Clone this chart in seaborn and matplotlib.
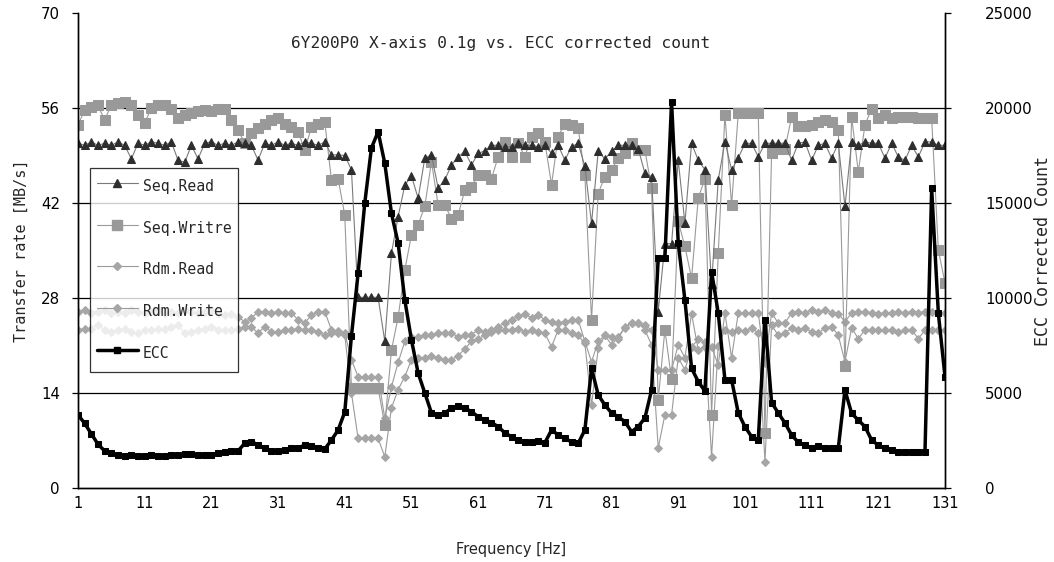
import numpy as np
import pandas as pd
import matplotlib
matplotlib.use("Agg")
import matplotlib.pyplot as plt
from matplotlib.lines import Line2D
import seaborn as sns

freq = list(range(1, 132))

seq_read = [
    50.8, 50.5, 51.0, 50.5, 50.8, 50.5, 51.0, 50.5, 48.5, 50.8,
    50.5, 51.0, 50.8, 50.5, 51.0, 48.3, 48.0, 50.5, 48.5, 50.8,
    51.0, 50.5, 50.8, 50.5, 51.0, 50.8, 50.5, 48.3, 50.8, 50.5,
    51.0, 50.5, 50.8, 50.5, 51.0, 50.8, 50.5, 51.0, 49.1, 49.1,
    49.0, 46.9, 28.1, 28.1, 28.1, 28.1, 21.6, 34.6, 40.0, 44.6,
    46.0, 42.7, 48.6, 49.1, 44.2, 45.4, 47.6, 48.8, 49.6, 47.6,
    49.3, 49.7, 50.5, 50.5, 50.3, 50.3, 50.8, 50.5, 50.5, 50.3,
    50.5, 49.3, 50.5, 48.3, 50.3, 50.8, 47.4, 39.0, 49.6, 48.5,
    49.6, 50.5, 50.5, 50.5, 50.0, 46.4, 45.9, 26.0, 36.0, 36.0,
    48.3, 39.0, 50.8, 48.3, 46.9, 30.0, 45.4, 51.0, 46.9, 48.6,
    50.8, 50.8, 48.8, 50.8, 50.8, 50.8, 50.8, 48.3, 50.8, 51.0,
    48.3, 50.5, 50.8, 48.6, 50.8, 41.5, 51.0, 50.5, 51.0, 50.8,
    50.8, 48.6, 50.8, 48.8, 48.3, 50.5, 48.8, 51.0, 51.0, 50.5, 50.5,
]

seq_write = [
    53.5, 55.7, 56.2, 56.4, 54.2, 56.5, 56.7, 56.9, 56.5, 55.0,
    53.8, 56.0, 56.4, 56.5, 55.8, 54.5, 55.0, 55.3, 55.5, 55.7,
    55.5, 55.9, 55.9, 54.2, 52.8, 50.8, 52.3, 53.0, 53.7, 54.2,
    54.5, 53.7, 53.2, 52.5, 49.8, 53.2, 53.7, 54.0, 45.4, 45.6,
    40.2, 14.7, 14.7, 14.7, 14.7, 14.7, 9.3, 20.3, 25.2, 32.1,
    37.3, 38.8, 41.5, 48.1, 41.7, 41.7, 39.7, 40.2, 43.9, 44.4,
    46.1, 46.1, 45.6, 48.8, 51.0, 48.8, 50.8, 48.8, 51.8, 52.3,
    51.0, 44.7, 51.8, 53.7, 53.5, 53.0, 46.1, 24.8, 43.4, 45.9,
    46.9, 48.6, 49.3, 50.8, 49.8, 49.8, 44.2, 13.0, 23.3, 16.0,
    39.3, 35.6, 30.9, 42.7, 45.6, 10.8, 34.6, 55.0, 41.7, 55.2,
    55.2, 55.2, 55.2, 8.1, 49.3, 50.0, 50.0, 54.7, 53.3, 53.3,
    53.5, 54.0, 54.2, 54.0, 52.8, 18.0, 54.7, 46.6, 53.5, 55.9,
    54.5, 55.0, 54.5, 54.7, 54.7, 54.7, 54.5, 54.5, 54.5, 35.1, 30.2,
]

rdm_read = [
    26.0, 26.2, 25.8, 26.0, 26.2, 25.8, 26.0, 25.8, 26.2, 26.0,
    25.8, 26.0, 26.2, 25.8, 26.0, 25.8, 26.2, 26.0, 25.8, 26.0,
    26.2, 25.8, 25.5, 25.7, 25.2, 24.5, 25.0, 26.0, 26.0, 25.8,
    26.0, 25.8, 25.8, 24.8, 24.3, 25.5, 26.0, 26.0, 23.3, 23.1,
    22.8, 18.9, 16.4, 16.4, 16.4, 16.4, 10.3, 14.9, 18.5, 21.6,
    22.3, 22.3, 22.6, 22.6, 22.8, 22.8, 22.8, 22.3, 22.6, 22.6,
    23.3, 23.0, 23.3, 23.8, 24.3, 24.8, 25.3, 25.7, 25.0, 25.5,
    24.8, 24.5, 24.3, 24.5, 24.8, 24.8, 21.6, 18.6, 21.6, 22.5,
    22.3, 22.0, 23.8, 24.3, 24.3, 24.0, 23.3, 17.4, 17.4, 17.4,
    21.1, 19.2, 25.7, 20.3, 20.8, 20.8, 18.1, 25.8, 19.2, 25.8,
    25.8, 25.8, 25.8, 18.4, 25.8, 24.3, 24.3, 25.8, 26.0, 25.8,
    26.3, 26.0, 26.3, 25.8, 25.7, 24.5, 25.8, 26.0, 26.0, 25.8,
    25.7, 25.8, 25.8, 26.0, 25.8, 26.0, 25.8, 26.0, 26.0, 25.8, 25.8,
]

rdm_write = [
    23.3, 23.5, 23.5, 24.0, 23.3, 23.0, 23.3, 23.5, 23.0, 22.8,
    23.3, 23.3, 23.5, 23.5, 23.8, 24.0, 22.8, 23.0, 23.3, 23.5,
    23.8, 23.3, 23.3, 23.3, 23.5, 23.8, 23.8, 22.8, 23.8, 23.0,
    23.0, 23.3, 23.3, 23.5, 23.3, 23.3, 23.0, 22.5, 22.8, 22.8,
    22.5, 14.0, 7.3, 7.3, 7.3, 7.3, 4.6, 11.8, 14.5, 16.4,
    18.9, 19.2, 19.2, 19.5, 19.2, 18.9, 18.9, 19.5, 20.5, 21.6,
    22.0, 22.5, 23.0, 23.3, 23.3, 23.3, 23.5, 23.0, 23.3, 23.0,
    22.8, 20.8, 23.3, 23.3, 22.8, 22.5, 21.3, 12.2, 20.6, 22.5,
    21.1, 22.3, 23.6, 24.3, 24.3, 23.3, 21.1, 5.9, 10.8, 10.8,
    19.2, 17.4, 20.8, 21.9, 21.5, 4.6, 21.0, 23.3, 23.0, 23.3,
    23.1, 23.6, 22.8, 3.9, 24.0, 22.5, 22.8, 23.6, 23.3, 23.6,
    23.0, 22.8, 23.6, 23.8, 22.5, 18.6, 23.6, 22.0, 23.3, 23.3,
    23.3, 23.3, 23.3, 23.0, 23.3, 23.3, 22.0, 23.3, 23.3, 23.3, 23.3,
]

ecc = [
    3850, 3400, 2850, 2300, 1950, 1830, 1720, 1700, 1720, 1680,
    1700, 1720, 1700, 1680, 1720, 1750, 1780, 1770, 1720, 1740,
    1760, 1830, 1900, 1960, 1950, 2350, 2440, 2270, 2100, 1950,
    1950, 1980, 2100, 2100, 2260, 2200, 2100, 2050, 2520, 3050,
    4000, 8000, 11300, 15000, 17900, 18750, 17090, 14460, 12890, 9900,
    7790, 6050, 5000, 3950, 3850, 3950, 4200, 4320, 4200, 4020,
    3750, 3580, 3440, 3230, 2900, 2700, 2530, 2400, 2420, 2460,
    2380, 3050, 2800, 2620, 2420, 2350, 3050, 6300, 4900, 4370,
    3950, 3750, 3490, 2960, 3230, 3680, 5150, 12100, 12100, 20330,
    12900, 9900, 6300, 5600, 5100, 11390, 9200, 5700, 5700, 3950,
    3230, 2700, 2520, 8840, 4500, 3950, 3420, 2790, 2400, 2250,
    2100, 2200, 2100, 2100, 2100, 5150, 3930, 3570, 3230, 2520,
    2250, 2100, 2000, 1910, 1910, 1910, 1910, 1910, 15770, 9200, 5860,
]

for arr in (seq_read, seq_write, rdm_read, rdm_write, ecc):
    assert len(arr) == len(freq), len(arr)

title = "6Y200P0 X-axis 0.1g vs. ECC corrected count"
left_ticks = [0, 14, 28, 42, 56, 70]
right_ticks = [0, 5000, 10000, 15000, 20000, 25000]
x_label_ticks = list(range(1, 132, 10))

df = pd.DataFrame({"freq": freq, "Seq.Read": seq_read, "Seq.Writre": seq_write,
                   "Rdm.Read": rdm_read, "Rdm.Write": rdm_write, "ECC": ecc})

sns.set_style("white")
plt.rcParams["font.family"] = ["DejaVu Sans"]

fig = plt.figure(figsize=(10.54, 5.62), dpi=100)
ax = fig.add_axes([78 / 1054, 74 / 562, 867 / 1054, 475 / 562])
ax2 = ax.twinx()

line_gray = "#9a9a9a"
styles = {
    "Rdm.Write": dict(marker="D", markersize=4.2, color=line_gray, markerfacecolor="#a6a6a6",
                      markeredgecolor="#a6a6a6", linewidth=0.8),
    "Rdm.Read": dict(marker="D", markersize=4.2, color=line_gray, markerfacecolor="#a6a6a6",
                     markeredgecolor="#a6a6a6", linewidth=0.8),
    "Seq.Writre": dict(marker="s", markersize=7.0, color=line_gray, markerfacecolor="#999999",
                       markeredgecolor="#999999", linewidth=0.8),
    "Seq.Read": dict(marker="^", markersize=6.2, color="#7a7a7a", markerfacecolor="#2e2e2e",
                     markeredgecolor="#2e2e2e", linewidth=0.8),
}
for name in ["Rdm.Write", "Rdm.Read", "Seq.Writre", "Seq.Read"]:
    sns.lineplot(data=df, x="freq", y=name, ax=ax, legend=False, **styles[name])

sns.lineplot(data=df, x="freq", y="ECC", ax=ax2, legend=False, color="black",
             linewidth=2.5, marker="s", markersize=4, markerfacecolor="black",
             markeredgecolor="black")

ax.set_xlim(1, 131)
ax.set_ylim(0, 70)
ax2.set_ylim(0, 25000)
ax.set_yticks(left_ticks)
ax2.set_yticks(right_ticks)
ax.set_xticks(list(range(1, 132, 5)))
ax.set_xticklabels([str(v) if v in x_label_ticks else "" for v in range(1, 132, 5)])

for v in left_ticks[1:-1]:
    ax.axhline(v, color="black", linewidth=0.9, zorder=0)

for a in (ax, ax2):
    a.spines["top"].set_visible(False)
    for s in ("left", "right", "bottom"):
        a.spines[s].set_color("black")
        a.spines[s].set_linewidth(1.0)
ax.tick_params(axis="x", direction="in", length=5, width=0.9, labelsize=10.5, pad=6, colors="black")
ax.tick_params(axis="y", direction="out", length=4, width=0.9, labelsize=10.8, pad=9, colors="black")
ax2.tick_params(axis="y", direction="out", length=4, width=0.9, labelsize=10.8, pad=25, colors="black")

mono = ["DejaVu Sans Mono"]
ax.set_xlabel("Frequency [Hz]", fontsize=10.5, labelpad=22)
ax.set_ylabel("Transfer rate [MB/s]", fontsize=10.9, family=mono, labelpad=9)
ax2.set_ylabel("ECC Corrected Count", fontsize=12.0, family=mono, labelpad=1)

ax.text(0.487, 0.935, title, transform=ax.transAxes, ha="center", va="center",
        fontsize=11.6, family=mono)

handles = [
    Line2D([], [], **styles["Seq.Read"]),
    Line2D([], [], **styles["Seq.Writre"]),
    Line2D([], [], **styles["Rdm.Read"]),
    Line2D([], [], **styles["Rdm.Write"]),
    Line2D([], [], color="black", linewidth=2.5, marker="s", markersize=4),
]
labels = ["Seq.Read", "Seq.Writre", "Rdm.Read", "Rdm.Write", "ECC"]
leg = ax2.legend(handles, labels, loc="upper left", bbox_to_anchor=(0.0138, 0.6737),
                 borderaxespad=0, frameon=True, fancybox=False, edgecolor="black",
                 prop={"family": mono, "size": 10.6}, handlelength=2.8, handleheight=2.0,
                 labelspacing=1.3, borderpad=0.45, handletextpad=0.35)
leg.get_frame().set_linewidth(0.9)

fig.savefig("out.png", dpi=100)
